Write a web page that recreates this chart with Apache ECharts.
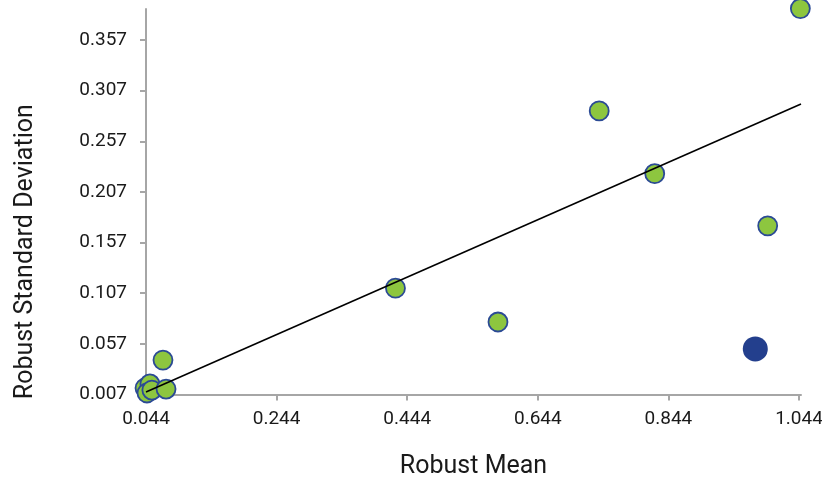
<!DOCTYPE html>
<html>
<head>
<meta charset="utf-8">
<script src="https://cdn.jsdelivr.net/npm/echarts@6/dist/echarts.min.js"></script>
<style>html,body{margin:0;padding:0;background:#fff}#c{width:822px;height:480px}</style>
</head>
<body>
<div id="c"></div>
<script>
// Data
const robustMean = [1.046, 0.738, 0.823, 0.996, 0.426, 0.583, 0.070, 0.0425, 0.050, 0.0455, 0.053, 0.0747];
const robustSD   = [0.388, 0.287, 0.225, 0.1735, 0.112, 0.0786, 0.041, 0.0134, 0.0174, 0.0085, 0.0114, 0.0124];
const highlightMean = [0.977];
const highlightSD   = [0.052];
const trendX = [0.044, 1.047];
const trendY = [0.0095, 0.2938];
const xTicks = [0.044, 0.244, 0.444, 0.644, 0.844, 1.044];
const yTicks = [0.007, 0.057, 0.107, 0.157, 0.207, 0.257, 0.307, 0.357];

const font = 'Roboto';
const chart = echarts.init(document.getElementById('c'), null, {renderer: 'canvas'});
chart.setOption({
  animation: false,
  grid: {left: 146, right: 21, top: 9, bottom: 85.5, containLabel: false, outerBoundsMode: 'none'},
  xAxis: {
    type: 'value', min: 0.044, max: 1.047, interval: 0.2,
    name: 'Robust Mean', nameLocation: 'middle', nameGap: 60,
    nameTextStyle: {fontFamily: font, fontSize: 25, color: '#1a1a1a'},
    axisLine: {show: true, lineStyle: {color: '#a6a6a6', width: 2}},
    axisTick: {show: true, length: 6, lineStyle: {color: '#a6a6a6', width: 2}, customValues: xTicks},
    axisLabel: {fontFamily: font, fontSize: 19, color: '#1a1a1a', margin: 15, customValues: xTicks,
      formatter: v => v.toFixed(3)},
    splitLine: {show: false}
  },
  yAxis: {
    type: 'value', min: 0.007, max: 0.3876, interval: 0.05,
    name: 'Robust Standard Deviation', nameLocation: 'middle', nameGap: 108,
    nameTextStyle: {fontFamily: font, fontSize: 25, color: '#1a1a1a', padding: [0, 100, 0, 0]},
    axisLine: {show: true, lineStyle: {color: '#a6a6a6', width: 2}},
    axisTick: {show: true, length: 6, lineStyle: {color: '#a6a6a6', width: 2}, customValues: yTicks},
    axisLabel: {fontFamily: font, fontSize: 19, color: '#1a1a1a', margin: 19, customValues: yTicks,
      formatter: v => v.toFixed(3)},
    splitLine: {show: false}
  },
  series: [
    {
      type: 'line', data: trendX.map((x, i) => [x, trendY[i]]),
      showSymbol: false, symbol: 'none', lineStyle: {color: '#000', width: 1.6}, z: 3, clip: false
    },
    {
      type: 'scatter', data: robustMean.map((x, i) => [x, robustSD[i]]),
      symbolSize: 19, itemStyle: {color: '#8dc63f', borderColor: '#2b4a95', borderWidth: 1.8, opacity: 1},
      z: 2, clip: false
    },
    {
      type: 'scatter', data: highlightMean.map((x, i) => [x, highlightSD[i]]),
      symbolSize: 25, itemStyle: {color: '#233f8d', opacity: 1}, z: 4, clip: false
    }
  ]
});
</script>
</body>
</html>
